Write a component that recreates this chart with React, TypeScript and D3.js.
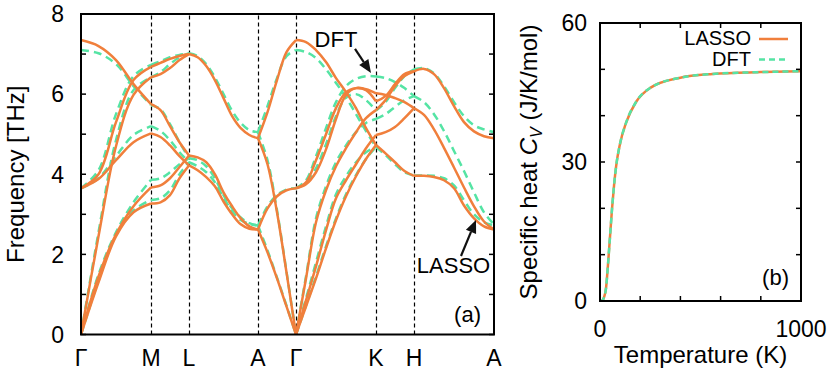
import React from "react";
import * as d3 from "d3";

// high-symmetry path
const kLabels = ["Γ", "M", "L", "A", "Γ", "K", "H", "A"];
const kPoints = [0, 0.7, 1.08, 1.77, 2.15, 2.95, 3.33, 4.13];

// phonon bands (THz), each row evenly sampled between two high-symmetry points
const gmLasso = [
  [7.35, 7.2, 6.85, 6.25, 5.75],
  [3.65, 4.0, 5.3, 6.35, 6.68],
  [0, 2.45, 4.7, 5.98, 6.42],
  [3.65, 3.88, 4.35, 4.8, 5.02],
  [0, 1.45, 2.5, 3.2, 3.67],
  [0, 1.3, 2.45, 3.05, 3.27],
];
const gmDft = [
  [7.1, 7.02, 6.75, 6.2, 5.73],
  [3.65, 4.1, 5.5, 6.45, 6.73],
  [0, 2.55, 4.85, 6.1, 6.42],
  [3.65, 3.9, 4.45, 4.98, 5.2],
  [0, 1.5, 2.55, 3.3, 3.86],
  [0, 1.35, 2.5, 3.1, 3.36],
];
const mlLasso = [
  [6.68, 6.78, 6.88, 6.95, 7.0],
  [6.42, 6.5, 6.65, 6.85, 7.0],
  [5.75, 5.6, 5.2, 4.8, 4.47],
  [5.02, 4.93, 4.72, 4.45, 4.22],
  [3.67, 3.72, 3.9, 4.18, 4.47],
  [3.27, 3.3, 3.48, 3.9, 4.22],
];
const mlDft = [
  [6.73, 6.82, 6.92, 6.98, 7.02],
  [6.42, 6.55, 6.75, 6.92, 7.02],
  [5.73, 5.62, 5.25, 4.8, 4.4],
  [5.2, 5.08, 4.85, 4.55, 4.3],
  [3.86, 3.9, 4.05, 4.25, 4.4],
  [3.36, 3.4, 3.6, 4.0, 4.3],
];
const laLasso = [
  [7.0, 6.92, 6.7, 6.35, 5.9, 5.45, 5.15, 4.98, 4.9],
  [4.47, 4.42, 4.3, 4.0, 3.55, 3.2, 2.9, 2.7, 2.62],
  [4.22, 4.1, 3.93, 3.7, 3.32, 3.0, 2.75, 2.64, 2.62],
];
const laDft = [
  [7.02, 6.95, 6.75, 6.42, 6.0, 5.58, 5.28, 5.1, 5.05],
  [4.4, 4.35, 4.2, 3.9, 3.48, 3.15, 2.92, 2.78, 2.72],
  [4.3, 4.2, 4.05, 3.8, 3.42, 3.08, 2.86, 2.76, 2.72],
];
const agLasso = [
  [4.9, 5.55, 6.35, 7.05, 7.35],
  [4.9, 4.25, 3.05, 1.55, 0],
  [2.62, 3.15, 3.45, 3.6, 3.65],
  [2.62, 2.05, 1.4, 0.7, 0],
];
const agDft = [
  [5.05, 5.7, 6.4, 6.95, 7.1],
  [5.05, 4.35, 3.1, 1.57, 0],
  [2.72, 3.2, 3.48, 3.62, 3.65],
  [2.72, 2.1, 1.42, 0.72, 0],
];
const gkLasso = [
  [7.35, 7.3, 7.1, 6.8, 6.4, 6.05, 5.65, 5.15, 4.73],
  [3.65, 3.75, 4.05, 4.62, 5.38, 5.98, 6.15, 6.1, 5.82],
  [3.65, 3.8, 4.35, 5.0, 5.65, 6.05, 6.15, 6.12, 6.02],
  [0, 1.4, 2.8, 3.6, 4.2, 4.65, 5.05, 5.4, 5.6],
  [0, 0.85, 1.7, 2.6, 3.4, 3.85, 4.25, 4.65, 4.98],
  [0, 0.7, 1.4, 2.15, 2.85, 3.45, 3.95, 4.38, 4.73],
];
const gkDft = [
  [7.1, 7.05, 6.9, 6.62, 6.28, 5.92, 5.5, 5.08, 4.68],
  [3.65, 3.85, 4.45, 5.15, 5.8, 6.2, 6.38, 6.45, 6.44],
  [3.65, 3.78, 4.15, 4.75, 5.45, 5.92, 6.0, 5.85, 5.59],
  [0, 1.45, 2.9, 3.7, 4.3, 4.72, 5.05, 5.28, 5.38],
  [0, 0.9, 1.8, 2.7, 3.5, 3.95, 4.3, 4.55, 4.68],
  [0, 0.72, 1.45, 2.2, 2.9, 3.5, 3.98, 4.38, 4.68],
];
const khLasso = [
  [6.02, 5.98, 5.9, 5.8, 5.65],
  [5.82, 5.95, 6.25, 6.5, 6.57],
  [5.6, 5.85, 6.2, 6.45, 6.57],
  [4.98, 5.05, 5.18, 5.4, 5.65],
  [4.73, 4.52, 4.3, 4.08, 3.96],
];
const khDft = [
  [6.44, 6.4, 6.3, 6.15, 5.95],
  [5.59, 5.8, 6.15, 6.45, 6.62],
  [5.38, 5.5, 5.68, 5.85, 5.95],
  [4.68, 4.48, 4.25, 4.05, 3.97],
];
const haLasso = [
  [6.57, 6.63, 6.5, 6.15, 5.7, 5.3, 5.07, 4.95, 4.9],
  [5.65, 5.48, 5.12, 4.66, 4.17, 3.67, 3.2, 2.82, 2.62],
  [3.96, 3.96, 3.93, 3.85, 3.65, 3.22, 2.9, 2.7, 2.62],
];
const haDft = [
  [6.62, 6.65, 6.52, 6.2, 5.8, 5.45, 5.22, 5.12, 5.05],
  [5.95, 5.8, 5.5, 5.08, 4.58, 4.08, 3.55, 3.05, 2.75],
  [3.97, 3.97, 3.96, 3.9, 3.72, 3.35, 3.0, 2.8, 2.72],
];

const segments = [
  { from: 0, to: 1, lasso: gmLasso, dft: gmDft },
  { from: 1, to: 2, lasso: mlLasso, dft: mlDft },
  { from: 2, to: 3, lasso: laLasso, dft: laDft },
  { from: 3, to: 4, lasso: agLasso, dft: agDft },
  { from: 4, to: 5, lasso: gkLasso, dft: gkDft },
  { from: 5, to: 6, lasso: khLasso, dft: khDft },
  { from: 6, to: 7, lasso: haLasso, dft: haDft },
];

// specific heat (J/K/mol) vs temperature (K)
const cvTemps = [0, 10, 20, 30, 40, 50, 60, 70, 80, 100, 130, 180, 250, 400, 560, 800, 1000];
const cvLasso = [0, 0.1, 0.8, 2.8, 8, 14, 20, 25, 29, 34, 38.5, 43, 46, 48.2, 49, 49.4, 49.6];
const cvDft = [0, 0.1, 0.8, 2.8, 8, 14, 20, 25, 29, 34, 38.5, 43, 46, 48.2, 49, 49.4, 49.6];

const ORANGE = "#f07f3c";
const GREEN = "#55e4a4";
const FONT = "'Liberation Sans', Arial, Helvetica, sans-serif";

export default function App() {
  const xA = d3.scaleLinear().domain([0, 4.13]).range([81, 494]);
  const yA = d3.scaleLinear().domain([0, 8]).range([334.5, 14]);
  const xB = d3.scaleLinear().domain([0, 1000]).range([600, 801]);
  const yB = d3.scaleLinear().domain([0, 60]).range([301, 23]);

  const bandPaths = (key: "lasso" | "dft") =>
    segments.flatMap((seg) =>
      seg[key].map((vals) => {
        const k0 = kPoints[seg.from];
        const k1 = kPoints[seg.to];
        const line = d3
          .line<number>()
          .x((_, i) => xA(k0 + ((k1 - k0) * i) / (vals.length - 1)))
          .y((d) => yA(d))
          .curve(d3.curveCatmullRom.alpha(0.5));
        return line(vals) as string;
      })
    );

  const cvLine = (vals: number[]) =>
    d3
      .line<number>()
      .x((_, i) => xB(cvTemps[i]))
      .y((d) => yB(d))
      .curve(d3.curveMonotoneX)(vals) as string;

  const arrow = (x1: number, y1: number, x2: number, y2: number) => {
    const a = Math.atan2(y2 - y1, x2 - x1);
    const L = 13, W = 5.5;
    const bx = x2 - L * Math.cos(a), by = y2 - L * Math.sin(a);
    const p = [
      [x2, y2],
      [bx + W * Math.sin(a), by - W * Math.cos(a)],
      [bx - W * Math.sin(a), by + W * Math.cos(a)],
    ];
    return (
      <g>
        <line x1={x1} y1={y1} x2={bx} y2={by} stroke="#111" strokeWidth={2.2} />
        <polygon points={p.map((q) => q.join(",")).join(" ")} fill="#111" />
      </g>
    );
  };

  const [a0, a1] = xA.range();
  const [b0, b1] = xB.range();
  const tk = 5;

  return (
    <svg width={831} height={379} style={{ position: "absolute", left: 0, top: 0, background: "#fff" }} fontFamily={FONT}>
      <defs>
        <clipPath id="clipA">
          <rect x={a0} y={yA(8)} width={a1 - a0} height={yA(0) - yA(8)} />
        </clipPath>
        <clipPath id="clipB">
          <rect x={b0} y={yB(60)} width={b1 - b0} height={yB(0) - yB(60)} />
        </clipPath>
      </defs>

      {/* panel (a) */}
      {kPoints.slice(1, -1).map((k, i) => {
        const x = Math.round(xA(k)) + 0.5;
        return (
          <line key={i} x1={x} x2={x} y1={yA(0)} y2={yA(8)} stroke="#000" strokeWidth={1.2} strokeDasharray="4,3" />
        );
      })}
      <g clipPath="url(#clipA)" fill="none">
        {bandPaths("dft").map((d, i) => (
          <path key={i} d={d} stroke={GREEN} strokeWidth={2.5} strokeDasharray="8,5" />
        ))}
        {bandPaths("lasso").map((d, i) => (
          <path key={i} d={d} stroke={ORANGE} strokeWidth={2.5} />
        ))}
      </g>
      {d3.range(0, 9).map((v) => (
        <g key={v}>
          <line x1={a0} x2={a0 + tk} y1={yA(v)} y2={yA(v)} stroke="#000" strokeWidth={1.5} />
          <line x1={a1} x2={a1 - tk} y1={yA(v)} y2={yA(v)} stroke="#000" strokeWidth={1.5} />
        </g>
      ))}
      <rect x={a0} y={yA(8)} width={a1 - a0} height={yA(0) - yA(8)} fill="none" stroke="#000" strokeWidth={2} />
      {[0, 2, 4, 6, 8].map((v) => (
        <text key={v} x={64} y={yA(v)} dy="0.36em" textAnchor="end" fontSize={23}>
          {v}
        </text>
      ))}
      {kPoints.map((k, i) => (
        <text key={i} x={xA(k)} y={366} textAnchor="middle" fontSize={23}>
          {kLabels[i]}
        </text>
      ))}
      <text transform={`translate(24,${(yA(0) + yA(8)) / 2}) rotate(-90)`} textAnchor="middle" fontSize={24}>
        Frequency [THz]
      </text>
      <text x={xA(2.55)} y={yA(7.17)} textAnchor="middle" fontSize={22}>DFT</text>
      {arrow(xA(2.74), yA(7.13), xA(2.9), yA(6.53))}
      <text x={xA(3.725)} y={yA(1.535)} textAnchor="middle" fontSize={22}>LASSO</text>
      {arrow(xA(3.8), yA(1.96), xA(3.95), yA(2.86))}
      <text x={481} y={322} textAnchor="end" fontSize={22}>(a)</text>

      {/* panel (b) */}
      <g clipPath="url(#clipB)" fill="none">
        <path d={cvLine(cvLasso)} stroke={ORANGE} strokeWidth={2.5} />
        <path d={cvLine(cvDft)} stroke={GREEN} strokeWidth={2.5} strokeDasharray="6,4" />
      </g>
      {d3.range(0, 61, 10).map((v) => (
        <g key={v}>
          <line x1={b0} x2={b0 + tk} y1={yB(v)} y2={yB(v)} stroke="#000" strokeWidth={1.5} />
          <line x1={b1} x2={b1 - tk} y1={yB(v)} y2={yB(v)} stroke="#000" strokeWidth={1.5} />
        </g>
      ))}
      {d3.range(0, 1001, 200).map((v) => (
        <g key={v}>
          <line x1={xB(v)} x2={xB(v)} y1={yB(0)} y2={yB(0) - tk} stroke="#000" strokeWidth={1.5} />
          <line x1={xB(v)} x2={xB(v)} y1={yB(60)} y2={yB(60) + tk} stroke="#000" strokeWidth={1.5} />
        </g>
      ))}
      <rect x={b0} y={yB(60)} width={b1 - b0} height={yB(0) - yB(60)} fill="none" stroke="#000" strokeWidth={2} />
      {[0, 30, 60].map((v) => (
        <text key={v} x={587} y={yB(v)} dy="0.36em" textAnchor="end" fontSize={23}>
          {v}
        </text>
      ))}
      {[0, 1000].map((v) => (
        <text key={v} x={xB(v)} y={337} textAnchor="middle" fontSize={23}>
          {v}
        </text>
      ))}
      <text x={(b0 + b1) / 2} y={363} textAnchor="middle" fontSize={24}>
        Temperature (K)
      </text>
      <text transform={`translate(537,${(yB(0) + yB(60)) / 2}) rotate(-90)`} textAnchor="middle" fontSize={24}>
        Specific heat <tspan fontStyle="italic">C</tspan>
        <tspan fontStyle="italic" fontSize={16} dy={5}>V</tspan>
        <tspan dy={-5}> (J/K/mol)</tspan>
      </text>
      <text x={751} y={45} textAnchor="end" fontSize={20}>LASSO</text>
      <line x1={759} x2={788} y1={39} y2={39} stroke={ORANGE} strokeWidth={2.5} />
      <text x={751} y={66} textAnchor="end" fontSize={20}>DFT</text>
      <line x1={759} x2={788} y1={59.5} y2={59.5} stroke={GREEN} strokeWidth={2.5} strokeDasharray="6,4" />
      <text x={789} y={285} textAnchor="end" fontSize={22}>(b)</text>
    </svg>
  );
}
